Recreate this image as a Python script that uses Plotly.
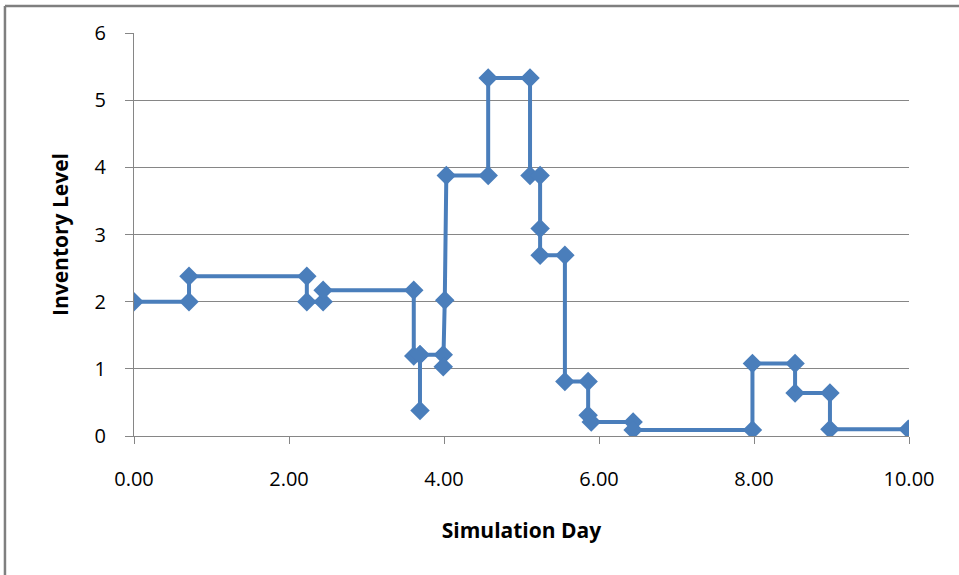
import plotly.graph_objects as go

# Simulation day (x) and inventory level (y), points connected in order
day = [0.00, 0.71, 0.71, 2.23, 2.23, 2.44, 2.44, 3.61, 3.61, 3.69, 3.69, 3.69,
       3.99, 3.99, 4.01, 4.03, 4.57, 4.57, 5.11, 5.11, 5.24, 5.24, 5.24, 5.56,
       5.56, 5.86, 5.86, 5.90, 6.44, 6.44, 7.98, 7.98, 8.53, 8.53, 8.98, 8.98, 9.99]
level = [2.00, 2.00, 2.38, 2.38, 2.00, 2.00, 2.17, 2.17, 1.19, 1.21, 0.38, 1.21,
         1.21, 1.03, 2.02, 3.88, 3.88, 5.33, 5.33, 3.88, 3.88, 3.09, 2.69, 2.69,
         0.81, 0.81, 0.31, 0.21, 0.21, 0.09, 0.09, 1.08, 1.08, 0.64, 0.64, 0.10, 0.10]

x_ticks = [0, 2, 4, 6, 8, 10]
x_tick_labels = ["0.00", "2.00", "4.00", "6.00", "8.00", "10.00"]
y_ticks = [0, 1, 2, 3, 4, 5, 6]

blue = "#4A7EBB"
grey = "#868686"
font_family = "'Open Sans', Lato, sans-serif"

fig = go.Figure()
fig.add_trace(go.Scatter(
    x=day, y=level, mode="lines+markers",
    line=dict(color=blue, width=4),
    marker=dict(symbol="diamond", size=15, color=blue),
    showlegend=False,
))

fig.update_layout(
    width=959, height=575,
    margin=dict(l=134, r=50, t=33, b=139),
    paper_bgcolor="white", plot_bgcolor="white",
    font=dict(family=font_family, size=20, color="black"),
    xaxis=dict(
        range=[0, 10], tickvals=x_ticks, ticktext=x_tick_labels,
        showgrid=False, zeroline=False, showline=True, linecolor=grey, linewidth=1,
        ticks="outside", ticklen=7, tickcolor=grey, ticklabelstandoff=18,
        tickfont=dict(size=20),
        title=dict(text="<b>Simulation Day</b>", font=dict(size=21), standoff=32),
    ),
    yaxis=dict(
        range=[0, 6], tickvals=y_ticks,
        showgrid=True, gridcolor=grey, gridwidth=1, zeroline=False,
        showline=True, linecolor=grey, linewidth=1,
        ticks="outside", ticklen=8, tickcolor=grey, ticklabelstandoff=15,
        tickfont=dict(size=20),
        title=dict(text="<b>Inventory Level</b>", font=dict(size=21), standoff=20),
    ),
    shapes=[
        dict(type="line", xref="paper", yref="paper",
             x0=-0.1665, x1=1.1, y0=1.067, y1=1.067,
             line=dict(color="#7f7f7f", width=2.5)),
        dict(type="line", xref="paper", yref="paper",
             x0=-0.1665, x1=-0.1665, y0=-0.5, y1=1.067,
             line=dict(color="#7f7f7f", width=2.5)),
    ],
)

fig.write_html("out.html")
